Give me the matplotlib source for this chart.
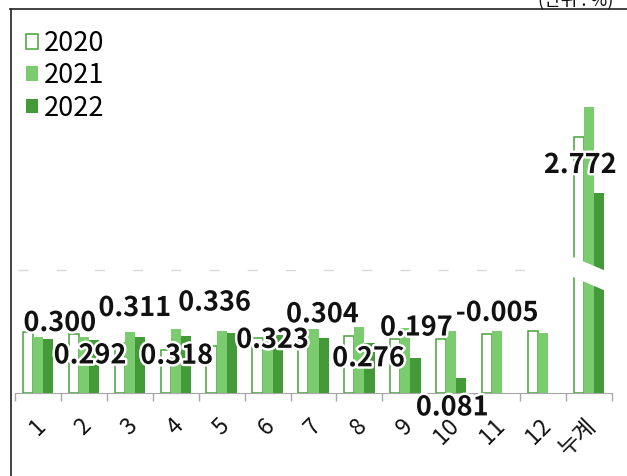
import numpy as np
import matplotlib.pyplot as plt
from matplotlib.patches import Polygon
from matplotlib.lines import Line2D
from matplotlib.transforms import blended_transform_factory, ScaledTranslation
import matplotlib.patheffects as pe

plt.rcParams['font.family'] = ['Noto Sans CJK KR', 'DejaVu Sans']
plt.rcParams['lines.scale_dashes'] = False

months = ['1', '2', '3', '4', '5', '6', '7', '8', '9', '10', '11', '12', '누계']
y2020 = [0.339, 0.328, 0.278, 0.239, 0.260, 0.305, 0.305, 0.317, 0.300, 0.300, 0.328, 0.344, 3.572]
y2021 = [0.311, 0.311, 0.339, 0.355, 0.344, 0.300, 0.355, 0.367, 0.361, 0.344, 0.344, 0.333, 4.001]
y2022 = [0.300, 0.292, 0.311, 0.318, 0.336, 0.323, 0.304, 0.276, 0.197, 0.081, -0.005, np.nan, 2.772]
years = ['2020', '2021', '2022']

# label offsets (pixels) from the top of each 2022 bar
lbl_dx = [12, -4, -5, -9, -17, -5, -1, -1, 1, -9, -10, 0, -19]
lbl_dy = [16, -15, 29, -20, 30, -5, 24, -15, 30, -29, 81, 0, 28]

c_edge = '#46a23a'
c21 = '#7acc6e'
c22 = '#449a39'

W, H = 627, 476
fig = plt.figure(figsize=(W / 100, H / 100), dpi=100)

x0, x1 = 15, 612
base, brk, top = 393, 270, 20
ax_lo = fig.add_axes([x0 / W, (H - base) / H, (x1 - x0) / W, (base - brk) / H])
ax_hi = fig.add_axes([x0 / W, (H - brk) / H, (x1 - x0) / W, (brk - top) / H])

x = np.arange(len(months))
bw, off = 0.22, 0.22
for ax in (ax_lo, ax_hi):
    ax.bar(x - off, y2020, bw, facecolor='white', edgecolor=c_edge, linewidth=1.1, label=years[0])
    ax.bar(x, y2021, bw, color=c21, label=years[1])
    ax.bar(x + off, y2022, bw, color=c22, label=years[2])
    ax.set_xlim(-0.5, len(months) - 0.5)
    ax.set_facecolor('none')
    for s in ax.spines.values():
        s.set_visible(False)
    ax.set_yticks([])

# lower part: 180 px per unit, upper part: 70 px per unit
ax_lo.set_ylim(0, (base - brk) / 180)
v_brk = y2022[12] - (brk - 193) / 70
ax_hi.set_ylim(v_brk, v_brk + (brk - top) / 70)
ax_hi.set_xticks([])

ax_lo.spines['bottom'].set_visible(True)
ax_lo.spines['bottom'].set_color('#a6a6a6')
ax_lo.set_xticks(np.arange(-0.5, len(months)), minor=True)
ax_lo.tick_params(axis='x', which='minor', length=6, color='#a6a6a6', width=1)
ax_lo.set_xticks(x)
ax_lo.set_xticklabels(months, rotation=45, ha='right', va='center',
                      rotation_mode='anchor', fontsize=16.5, fontweight='light', color='#111111')
ax_lo.tick_params(axis='x', which='major', length=0, pad=21)
shift = ScaledTranslation(4 / 100, 0, fig.dpi_scale_trans)
for t in ax_lo.get_xticklabels():
    t.set_transform(t.get_transform() + shift)

# dashed line at the break level
ax_lo.axhline(ax_lo.get_ylim()[1], xmin=(18 - x0) / (x1 - x0), xmax=(540 - x0) / (x1 - x0),
              color='#d9d9d9', lw=1, linestyle=(0, (7.2, 20.3)), clip_on=False)

halo = [pe.withStroke(linewidth=3.5, foreground='white')]
for i, v in enumerate(y2022):
    if np.isnan(v):
        continue
    ax = ax_hi if v > ax_lo.get_ylim()[1] else ax_lo
    ax.annotate(f'{v:.3f}', (i + off, v), xytext=(lbl_dx[i], lbl_dy[i]),
                textcoords='offset pixels', ha='center', va='center',
                fontsize=19.5, fontweight='bold', color='#111111',
                path_effects=halo, zorder=5, annotation_clip=False)

# white cut through the total bars
tr = blended_transform_factory(ax_lo.transData, fig.transFigure)
gap = Polygon([(11.6, 1 - 256 / H), (12.42, 1 - 272 / H), (12.42, 1 - 292 / H), (11.6, 1 - 276 / H)],
              closed=True, facecolor='white', edgecolor='none', transform=tr, clip_on=False, zorder=4)
ax_hi.add_patch(gap)

handles, labels = ax_lo.get_legend_handles_labels()
fig.legend(handles, labels, loc='upper left', bbox_to_anchor=(26 / W, 1 - 30 / H),
           frameon=False, handlelength=0.45, handleheight=0.45,
           handletextpad=0.2, labelspacing=0.2, borderpad=0, borderaxespad=0,
           prop={'size': 19.5, 'weight': 'light'})

fig.text(613 / W, 1 - 5 / H, '(단위 : %)', ha='right', va='baseline', fontsize=13, color='#111111')

fig.add_artist(Line2D([10.5 / W, 10.5 / W], [0, 1 - 9 / H], color='#333333', lw=1.3))
fig.add_artist(Line2D([10 / W, 1], [1 - 9 / H, 1 - 9 / H], color='#333333', lw=1.3))

fig.savefig('out.png', dpi=100)
